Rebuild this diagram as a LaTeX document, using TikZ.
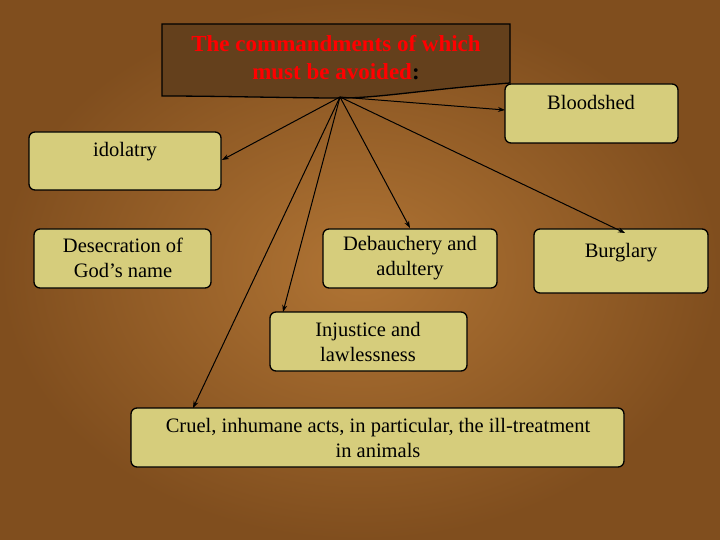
\documentclass[tikz,border=0pt]{standalone}
\usepackage{fontspec}
\usetikzlibrary{arrows.meta}
\setmainfont{Liberation Serif}
\definecolor{bgA}{RGB}{176,116,52}
\definecolor{bgB}{RGB}{128,78,30}
\definecolor{boxf}{RGB}{214,205,124}
\definecolor{topf}{RGB}{100,64,28}
\tikzset{
  ibox/.style={draw=black,line width=1.3pt,fill=boxf,rounded corners=6pt},
  lbl/.style={font=\fontsize{20.5}{24.5}\selectfont,align=center,text=black},
  conn/.style={draw=black,line width=1pt,-{Stealth[length=7pt,width=5pt]}}
}
\begin{document}
\begin{tikzpicture}[x=1pt,y=-1pt]
\useasboundingbox (0,0) rectangle (720,540);
\shade[inner color=bgA,outer color=bgB] (0,0) rectangle (720,540);
% top box
\path[draw=black,line width=1.3pt,fill=topf] (162,24) -- (510,24) -- (510,83) .. controls (420,90) and (380,98) .. (340,98) .. controls (290,98) and (220,96) .. (162,96) -- cycle;
\node[font=\bfseries\fontsize{23}{28}\selectfont,align=center] (top) at (336,58) {\textcolor{red}{The commandments of which}\\\textcolor{red}{must be avoided}:};
\coordinate (hub) at (340,97);
% boxes
\draw[ibox] (505,84) rectangle (678,143);
\node[lbl] (blood) at (591,102) {Bloodshed};
\draw[ibox] (29,132) rectangle (221,190);
\node[lbl] (idol) at (125,152) {idolatry};
\draw[ibox] (34,229) rectangle (211,288);
\node[lbl] (desc) at (123,258) {Desecration of\\God{\char"0027}s name};
\draw[ibox] (323,229) rectangle (497,288);
\node[lbl] (deb) at (410,258) {Debauchery and\\adultery};
\draw[ibox] (534,229) rectangle (708,293);
\node[lbl] (burg) at (621,253) {Burglary};
\draw[ibox] (270,312) rectangle (467,371);
\node[lbl] (inj) at (368,342) {Injustice and\\lawlessness};
\draw[ibox] (131,408) rectangle (624,467);
\node[lbl] (cruel) at (378,438) {Cruel, inhumane acts, in particular, the ill-treatment\\in animals};
% connectors
\coordinate (eBlood) at (505,110);
\coordinate (eIdol) at (222,160);
\coordinate (eDeb) at (410,228);
\coordinate (eBurg) at (625,233);
\coordinate (eInj) at (283,312);
\coordinate (eCruel) at (193,408);
\foreach \e in {eBlood,eIdol,eDeb,eBurg,eInj,eCruel}
  \draw[conn] (hub) -- (\e);
\end{tikzpicture}
\end{document}
